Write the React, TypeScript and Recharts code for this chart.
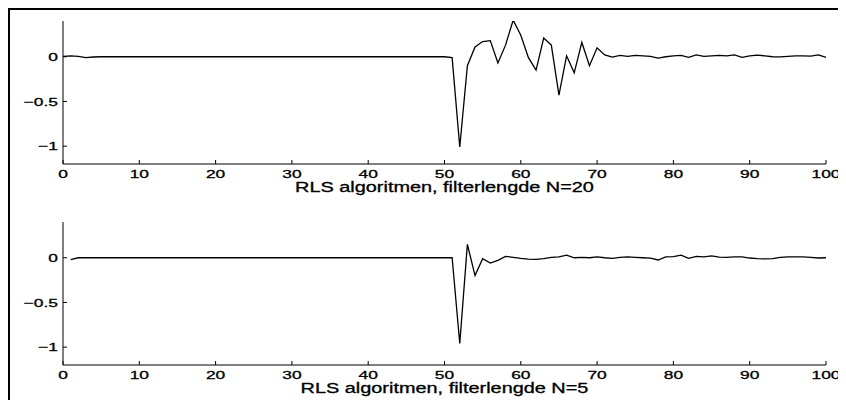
import React from "react";
import { LineChart, Line, XAxis, YAxis } from "recharts";

// samples 0..100, filter length 20
const rls20 = [
  0.005, 0.01, 0.005, -0.01, -0.003, 0, 0, 0, 0, 0,
  0, 0, 0, 0, 0, 0, 0, 0, 0, 0,
  0, 0, 0, 0, 0, 0, 0, 0, 0, 0,
  0, 0, 0, 0, 0, 0, 0, 0, 0, 0,
  0, 0, 0, 0, 0, 0, 0, 0, 0, 0,
  0, -0.01, -1.01, -0.1, 0.11, 0.17, 0.18, -0.07, 0.13, 0.41,
  0.24, -0.01, -0.15, 0.21, 0.13, -0.43, 0.01, -0.18, 0.16, -0.1,
  0.1, 0.02, -0.005, 0.015, 0.005, 0.015, 0.01, 0.005, -0.015, 0.0,
  0.01, 0.015, -0.007, 0.02, 0.005, 0.01, 0.015, 0.01, 0.02, -0.007,
  0.01, 0.019, 0.01, 0.0, -0.002, 0.005, 0.01, 0.01, 0.008, 0.02,
  -0.007,
];

// samples 1..100, filter length 5
const rls5 = [
  -0.02, 0, 0, 0, 0, 0, 0, 0, 0, 0,
  0, 0, 0, 0, 0, 0, 0, 0, 0, 0,
  0, 0, 0, 0, 0, 0, 0, 0, 0, 0,
  0, 0, 0, 0, 0, 0, 0, 0, 0, 0,
  0, 0, 0, 0, 0, 0, 0, 0, 0, 0,
  0, -0.96, 0.15, -0.2, -0.01, -0.06, -0.03, 0.015, 0.005, -0.007,
  -0.015, -0.019, -0.01, 0.005, 0.01, 0.03, 0.0, 0.005, 0.0, 0.01,
  0.0, -0.007, 0.005, 0.01, 0.005, 0.0, -0.004, -0.025, 0.01, 0.013,
  0.03, -0.007, 0.015, 0.01, 0.02, 0.008, 0.005, 0.01, 0.01, -0.003,
  -0.01, -0.013, -0.01, 0.005, 0.01, 0.01, 0.01, 0.005, -0.003, 0.0,
];

const xTicks = [0, 10, 20, 30, 40, 50, 60, 70, 80, 90, 100];
const yTicks = [-1, -0.5, 0];
const yDomain = [-1.2, 0.4];

const FONT = "'Liberation Sans', Arial, Helvetica, sans-serif";
// the original figure is stretched sideways, so text is widened to match
const SX = 1.5;

const fmtY = (v: number) => (v < 0 ? "\u2212" + String(-v) : String(v));

const BottomTick = (p: any) => (
  <g>
    <line x1={p.x} x2={p.x} y1={p.y} y2={p.y - 4} stroke="#000" />
    <text
      transform={`translate(${p.x},${p.y + 14}) scale(${SX},1)`}
      textAnchor="middle"
      fontSize={11.6}
      fontFamily={FONT}
      fill="#000"
      stroke="#000"
      strokeWidth={0.3}
    >
      {p.payload.value}
    </text>
  </g>
);

const TopTick = (p: any) => (
  <line x1={p.x} x2={p.x} y1={p.y} y2={p.y + 4} stroke="#000" />
);

const LeftTick = (p: any) => (
  <g>
    <line x1={p.x} x2={p.x + 4} y1={p.y} y2={p.y} stroke="#000" />
    <text
      transform={`translate(${p.x - 5},${p.y + 4.2}) scale(${SX},1)`}
      textAnchor="end"
      fontSize={11.6}
      fontFamily={FONT}
      fill="#000"
      stroke="#000"
      strokeWidth={0.3}
    >
      {fmtY(p.payload.value)}
    </text>
  </g>
);

const RightTick = (p: any) => (
  <line x1={p.x} x2={p.x - 4} y1={p.y} y2={p.y} stroke="#000" />
);

function Panel({ data, title, top }: { data: { x: number; y: number }[]; title: string; top: number }) {
  return (
    <LineChart
      width={846}
      height={200}
      data={data}
      margin={{ top, right: 20, left: 0, bottom: 0 }}
    >
      <XAxis
        dataKey="x"
        type="number"
        domain={[0, 100]}
        ticks={xTicks}
        height={200 - top - 143}
        stroke="#000"
        tickLine={false}
        tickSize={0}
        tickMargin={0}
        tick={BottomTick}
        label={{
          content: (lp: any) => {
            const vb = lp.viewBox || {};
            return (
              <text
                transform={`translate(${vb.x + vb.width / 2},${vb.y + 28}) scale(1.42,1)`}
                textAnchor="middle"
                fontSize={14}
                fontFamily={FONT}
                fill="#000"
                stroke="#000"
                strokeWidth={0.3}
              >
                {title}
              </text>
            );
          },
        }}
      />
      <XAxis
        xAxisId="top"
        orientation="top"
        dataKey="x"
        type="number"
        domain={[0, 100]}
        ticks={xTicks}
        height={0}
        stroke="#000"
        tickLine={false}
        tickSize={0}
        tickMargin={0}
        tick={TopTick}
      />
      <YAxis
        type="number"
        domain={yDomain}
        ticks={yTicks}
        allowDataOverflow
        width={63}
        stroke="#000"
        tickLine={false}
        tickSize={0}
        tickMargin={0}
        tick={LeftTick}
      />
      <YAxis
        yAxisId="right"
        orientation="right"
        type="number"
        domain={yDomain}
        ticks={yTicks}
        allowDataOverflow
        width={0}
        stroke="#000"
        tickLine={false}
        tickSize={0}
        tickMargin={0}
        tick={RightTick}
      />
      <Line
        type="linear"
        dataKey="y"
        stroke="#000"
        strokeWidth={1.3}
        dot={false}
        isAnimationActive={false}
      />
    </LineChart>
  );
}

export default function App() {
  const d20 = rls20.map((v, i) => ({ x: i, y: v }));
  const d5 = rls5.map((v, i) => ({ x: i + 1, y: v }));
  return (
    <div
      style={{
        position: "relative",
        width: 846,
        height: 400,
        margin: "-8px 0 0 -8px",
        overflow: "hidden",
        background: "#fff",
      }}
    >
      <div
        style={{
          position: "absolute",
          left: 7,
          top: 7,
          width: 900,
          height: 500,
          borderTop: "3px solid #000",
          borderLeft: "3px solid #000",
        }}
      />
      <div style={{ position: "absolute", left: 0, top: 0 }}>
        <Panel data={d20} title="RLS algoritmen, filterlengde N=20" top={21} />
      </div>
      <div style={{ position: "absolute", left: 0, top: 200 }}>
        <Panel data={d5} title="RLS algoritmen, filterlengde N=5" top={22} />
      </div>
    </div>
  );
}
